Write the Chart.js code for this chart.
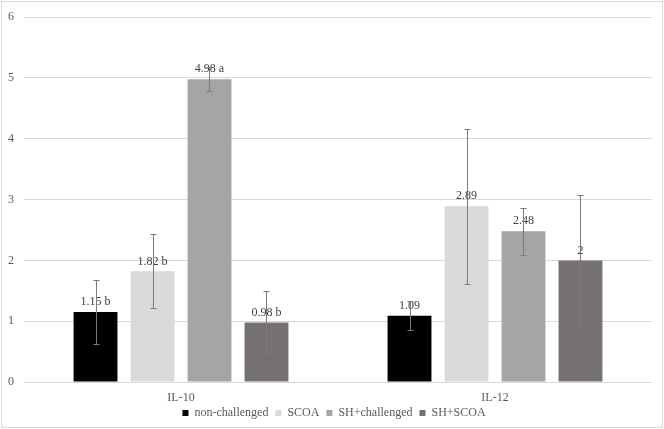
<!DOCTYPE html>
<html>
<head>
<meta charset="utf-8">
<script src="https://cdn.jsdelivr.net/npm/chart.js@4/dist/chart.umd.min.js"></script>
<style>
  html, body { margin: 0; padding: 0; background: #ffffff; }
  #c { display: block; }
</style>
</head>
<body>
<canvas id="c" width="664" height="429"></canvas>
<script>
// ---- data ----
const categories = ['IL-10', 'IL-12'];
const seriesNames = ['non-challenged', 'SCOA', 'SH+challenged', 'SH+SCOA'];

const nonChallenged = [1.15, 1.09];
const scoa = [1.82, 2.89];
const shChallenged = [4.98, 2.48];
const shScoa = [0.98, 2];

const errNonChallenged = [0.52, 0.24];
const errScoa = [0.61, 1.27];
const errShChallenged = [0.20, 0.39];
const errShScoa = [0.51, 1.07];

const lblNonChallenged = ['1.15 b', '1.09'];
const lblScoa = ['1.82 b', '2.89'];
const lblShChallenged = ['4.98 a', '2.48'];
const lblShScoa = ['0.98 b', '2'];

const yMin = 0, yMax = 6, yStep = 1;

const seriesColors = ['#000000', '#d9d9d9', '#a5a5a5', '#767171'];
const seriesValues = [nonChallenged, scoa, shChallenged, shScoa];
const seriesErrors = [errNonChallenged, errScoa, errShChallenged, errShScoa];
const seriesLabels = [lblNonChallenged, lblScoa, lblShChallenged, lblShScoa];

const FONT = "'Liberation Serif', 'Times New Roman', serif";

const frame = {
  id: 'frame',
  beforeDraw(chart) {
    const ctx = chart.ctx;
    ctx.save();
    ctx.fillStyle = '#ffffff';
    ctx.fillRect(0, 0, chart.width, chart.height);
    ctx.strokeStyle = '#d9d9d9';
    ctx.lineWidth = 1;
    ctx.strokeRect(1.5, 1.5, 661, 426);
    ctx.restore();
  },
  afterLayout(chart) {
    // let x tick labels extend below the (short) axis box without being clipped
    chart.scales.x.bottom = chart.height;
    // centre the legend on the whole frame
    chart.legend.left += 16;
  }
};

const extras = {
  id: 'extras',
  afterDatasetsDraw(chart) {
    const ctx = chart.ctx;
    const ys = chart.scales.y;
    ctx.save();
    // data labels
    ctx.font = '12px ' + FONT;
    ctx.fillStyle = '#404040';
    ctx.textAlign = 'center';
    ctx.textBaseline = 'middle';
    chart.data.datasets.forEach((ds, i) => {
      const meta = chart.getDatasetMeta(i);
      meta.data.forEach((el, j) => {
        ctx.fillText(seriesLabels[i][j], el.x, el.y - 10);
      });
    });
    // error bars
    ctx.strokeStyle = '#7a7a7a';
    ctx.lineWidth = 1;
    chart.data.datasets.forEach((ds, i) => {
      const meta = chart.getDatasetMeta(i);
      meta.data.forEach((el, j) => {
        const v = seriesValues[i][j], e = seriesErrors[i][j];
        const x = Math.round(el.x) + 0.5;
        const yt = Math.round(ys.getPixelForValue(v + e)) + 0.5;
        const yb = Math.round(ys.getPixelForValue(v - e)) + 0.5;
        ctx.beginPath();
        ctx.moveTo(x, yt); ctx.lineTo(x, yb);
        ctx.moveTo(x - 3, yt); ctx.lineTo(x + 3, yt);
        ctx.moveTo(x - 3, yb); ctx.lineTo(x + 3, yb);
        ctx.stroke();
      });
    });
    ctx.restore();
  }
};

new Chart(document.getElementById('c'), {
  type: 'bar',
  data: {
    labels: categories,
    datasets: seriesNames.map((name, i) => ({
      label: name,
      data: seriesValues[i],
      backgroundColor: seriesColors[i],
      borderWidth: 0,
      categoryPercentage: 0.726,
      barPercentage: 0.77
    }))
  },
  options: {
    responsive: false,
    maintainAspectRatio: false,
    devicePixelRatio: 1,
    animation: false,
    layout: { padding: { left: 0, right: 12, top: 13, bottom: 0 } },
    plugins: {
      legend: {
        position: 'bottom',
        labels: {
          boxWidth: 6,
          boxHeight: 6,
          padding: 7,
          color: '#595959',
          font: { family: FONT, size: 12 }
        }
      },
      tooltip: { enabled: false }
    },
    scales: {
      x: {
        grid: { display: false, drawTicks: false },
        border: { display: false },
        ticks: { color: '#595959', font: { family: FONT, size: 12 }, padding: 9 },
        afterFit(s) { s.height = 18; }
      },
      y: {
        min: yMin, max: yMax,
        grid: { color: '#d9d9d9', lineWidth: 1, drawTicks: false },
        border: { display: false },
        ticks: { stepSize: yStep, color: '#595959', font: { family: FONT, size: 12 }, padding: 10 },
        afterFit(s) { s.width = 24; }
      }
    }
  },
  plugins: [frame, extras]
});
</script>
</body>
</html>
